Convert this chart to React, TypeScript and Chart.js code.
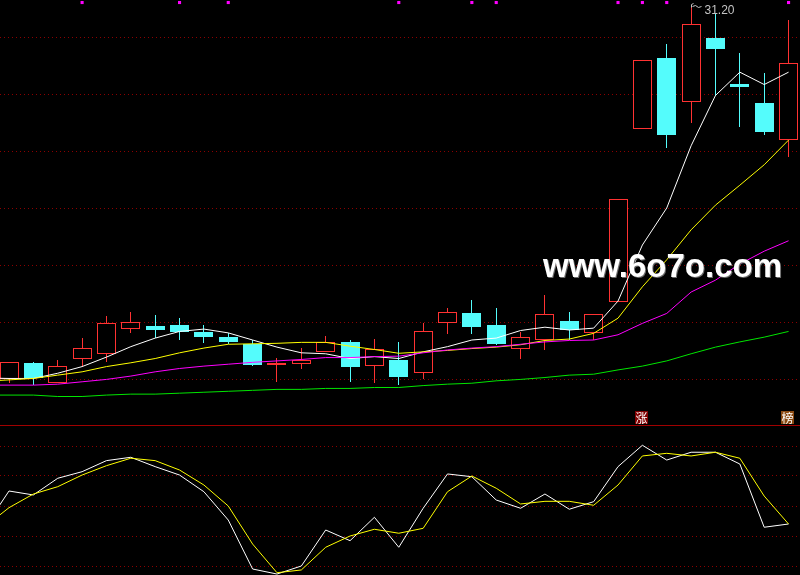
import React, { useEffect, useRef } from "react";
import { Chart, registerables } from "chart.js";

Chart.register(...registerables);

// ---------------- data (one entry per trading day in the window) ----------------
const OPEN = [23.37, 23.71, 23.29, 23.78, 23.89, 24.43, 24.49, 24.51, 24.36, 24.25, 24.10, 23.67, 23.69, 23.93, 24.15, 23.65, 23.77, 23.49, 24.54, 24.76, 24.51, 24.01, 24.18, 24.59, 24.33, 24.98, 28.63, 30.13, 29.20, 30.55, 29.58, 29.18, 28.40];
const HIGH = [23.73, 23.73, 23.77, 24.23, 24.70, 24.78, 24.72, 24.65, 24.51, 24.33, 24.19, 23.81, 24.02, 24.27, 24.19, 24.21, 24.15, 24.54, 24.86, 25.03, 24.86, 24.36, 25.14, 24.78, 24.73, 27.15, 30.08, 30.42, 31.20, 31.05, 30.23, 29.81, 30.93];
const LOW = [23.28, 23.24, 23.28, 23.63, 23.73, 24.34, 24.23, 24.19, 24.13, 24.11, 23.65, 23.31, 23.58, 23.93, 23.31, 23.29, 23.24, 23.37, 24.31, 24.32, 24.09, 23.78, 23.98, 24.19, 24.19, 24.98, 28.63, 28.24, 28.77, 29.33, 28.68, 28.51, 28.05];
const CLOSE = [23.73, 23.39, 23.64, 24.02, 24.54, 24.56, 24.40, 24.36, 24.25, 24.15, 23.66, 23.71, 23.77, 24.15, 23.63, 23.99, 23.42, 24.37, 24.77, 24.47, 24.11, 24.25, 24.73, 24.40, 24.73, 27.15, 30.08, 28.51, 30.84, 30.32, 29.52, 28.58, 30.02];

// moving averages / indicator lines: the first value belongs to the day just before the window
const MA5 = [23.39, 23.38, 23.38, 23.49, 23.63, 23.83, 24.05, 24.23, 24.37, 24.42, 24.34, 24.19, 24.04, 23.92, 23.90, 23.80, 23.84, 23.80, 23.94, 24.05, 24.19, 24.23, 24.39, 24.46, 24.40, 24.44, 25.01, 26.19, 26.97, 28.28, 29.34, 29.83, 29.57, 29.83];
const MA10 = [23.32, 23.35, 23.38, 23.45, 23.52, 23.63, 23.71, 23.80, 23.92, 24.02, 24.10, 24.11, 24.12, 24.14, 24.14, 24.06, 23.99, 23.91, 23.94, 23.97, 24.01, 24.04, 24.09, 24.18, 24.21, 24.33, 24.65, 25.31, 25.88, 26.51, 27.03, 27.45, 27.88, 28.40];
const MA20 = [23.24, 23.24, 23.24, 23.26, 23.31, 23.36, 23.43, 23.52, 23.59, 23.64, 23.68, 23.72, 23.75, 23.78, 23.82, 23.82, 23.84, 23.85, 23.92, 23.98, 24.02, 24.05, 24.10, 24.15, 24.18, 24.19, 24.30, 24.54, 24.75, 25.20, 25.45, 25.79, 26.06, 26.28];
const MA60 = [23.03, 23.03, 23.03, 23.00, 23.00, 23.03, 23.05, 23.05, 23.07, 23.09, 23.11, 23.13, 23.15, 23.15, 23.17, 23.17, 23.19, 23.19, 23.23, 23.26, 23.28, 23.33, 23.36, 23.40, 23.45, 23.47, 23.56, 23.64, 23.75, 23.90, 24.04, 24.15, 24.25, 24.37];
const K_LINE = [32, 62.5, 59.2, 73.1, 78.6, 87.8, 90.6, 82.8, 75.8, 61.9, 38.3, -2.5, -6.7, 0, 30, 21.1, 40.6, 15.6, 48.1, 76.7, 74.4, 55, 48.1, 60, 47.3, 53.6, 82.8, 100.6, 88.3, 94.8, 94.8, 85, 32.3, 35];
const D_LINE = [32.6, 48.6, 60, 66.1, 75.8, 83.6, 89.8, 87.8, 80, 67.5, 50, 18.3, -5.6, -3.3, 15.6, 25, 30.6, 27.3, 31.4, 61.9, 75, 64.8, 51.7, 53.9, 53.9, 50.6, 67.5, 91.7, 93.9, 91.7, 94.8, 89.8, 58.3, 35];

// signal days (magenta marks at the top) and text tags
const SIGNAL_DAYS = [3, 7, 9, 16, 19, 20, 25, 26, 27, 32];
const ZHANG_DAYS = [26];
const BANG_DAYS = [32];

// axis ticks (grid levels)
const PRICE_GRID = [23.35, 24.55, 25.75, 26.95, 28.15, 29.35, 30.55];
const KDJ_GRID = [0, 25, 50, 75, 100];
const PRICE_MIN = 22.4;
const PRICE_MAX = 31.35;
const KDJ_MIN = -7.5;
const KDJ_MAX = 117.5;
const WATERMARK = "www.6o7o.com";

// ---------------- styles ----------------
const RED = "#ff3232";
const CYAN = "#54fcfc";
const GRID = "#8c0000";
const X_MIN = -0.37;
const X_MAX = 32.47;

const lineData = (arr: number[]) => arr.map((v, i) => ({ x: i - 1, y: v }));

const xScale = { type: "linear", min: X_MIN, max: X_MAX, offset: false, display: false, grid: { offset: false } };

const yScale = (min: number, max: number, grid: number[]) => ({
  type: "linear",
  min,
  max,
  afterBuildTicks: (axis: any) => {
    axis.ticks = grid.map((v) => ({ value: v }));
  },
  ticks: { display: false },
  grid: { color: GRID, lineWidth: 1, drawTicks: false },
  border: { display: false, dash: [1, 3] },
});

const lineDs = (label: string, arr: number[], color: string, order: number) => ({
  type: "line",
  label,
  data: lineData(arr),
  borderColor: color,
  borderWidth: 1,
  pointRadius: 0,
  tension: 0,
  order,
});

// snap candle elements (computed by the scales) to whole pixels for crisp edges
const pixelSnap = {
  id: "pixelSnap",
  beforeDatasetsDraw(chart: any) {
    chart.getSortedVisibleDatasetMetas().forEach((meta: any) => {
      if (meta.type !== "bar") return;
      meta.data.forEach((el: any) => {
        el.x = Math.floor(el.x) + 0.5;
        el.y = Math.round(el.y);
        el.base = Math.round(el.base);
      });
    });
  },
};

const topOverlay = {
  id: "topOverlay",
  afterDatasetsDraw(chart: any) {
    const { ctx, chartArea, scales } = chart;
    const xs = scales.x;
    const ys = scales.y;
    ctx.save();

    // watermark
    ctx.font = "bold 34px 'Liberation Sans'";
    const w = ctx.measureText(WATERMARK).width;
    ctx.save();
    ctx.translate(543, 277);
    ctx.scale(239 / w, 1);
    ctx.shadowColor = "#6a6a6a";
    ctx.shadowOffsetX = 1;
    ctx.shadowOffsetY = 1;
    ctx.shadowBlur = 0;
    ctx.fillStyle = "#ffffff";
    ctx.textBaseline = "alphabetic";
    ctx.fillText(WATERMARK, 0, 0);
    ctx.restore();

    // highest-high label
    let hi = 0;
    HIGH.forEach((v, i) => {
      if (v > HIGH[hi]) hi = i;
    });
    const hx = Math.floor(xs.getPixelForValue(hi)) + 0.5;
    const hy = Math.round(ys.getPixelForValue(HIGH[hi])) + 0.5;
    ctx.strokeStyle = "#c4c4c4";
    ctx.lineWidth = 1;
    ctx.beginPath();
    ctx.moveTo(hx, hy);
    ctx.lineTo(hx, hy - 3);
    ctx.lineTo(hx + 2, hy - 4);
    ctx.moveTo(hx + 1, hy - 1);
    ctx.lineTo(hx + 4, hy - 2);
    ctx.lineTo(hx + 7, hy);
    ctx.lineTo(hx + 10, hy - 1);
    ctx.stroke();
    ctx.fillStyle = "#c4c4c4";
    ctx.font = "12px 'Liberation Sans'";
    ctx.textAlign = "left";
    ctx.textBaseline = "alphabetic";
    ctx.fillText(HIGH[hi].toFixed(2), hx + 13, hy + 6);

    // tags
    const drawTag = (day: number, text: string, bg: string) => {
      const cx = Math.floor(xs.getPixelForValue(day)) - 1;
      const top = chartArea.bottom - 14;
      ctx.fillStyle = bg;
      ctx.fillRect(cx - 6, top, 13, 13);
      ctx.fillStyle = "#ffffff";
      ctx.font = "12px 'Noto Sans CJK SC'";
      ctx.textAlign = "center";
      ctx.textBaseline = "middle";
      ctx.fillText(text, cx + 0.5, top + 7);
    };
    ZHANG_DAYS.forEach((d) => drawTag(d, "涨", "#800000"));
    BANG_DAYS.forEach((d) => drawTag(d, "榜", "#8a4a12"));
    ctx.restore();
  },
};

const bottomOverlay = {
  id: "bottomOverlay",
  afterDatasetsDraw(chart: any) {
    const { ctx, chartArea } = chart;
    ctx.save();
    ctx.fillStyle = "#a00000";
    ctx.fillRect(chartArea.left, chartArea.top, chartArea.right - chartArea.left, 1);
    ctx.restore();
  },
};

export default function App() {
  const topRef = useRef<HTMLCanvasElement>(null);
  const botRef = useRef<HTMLCanvasElement>(null);

  useEffect(() => {
    document.body.style.margin = "0";
    document.body.style.background = "#000";
    document.body.style.overflow = "hidden";

    const up = OPEN.map((o, i) => CLOSE[i] >= o);

    const top = new Chart(topRef.current as HTMLCanvasElement, {
      type: "bar",
      data: {
        datasets: [
          {
            type: "line",
            label: "signal",
            data: SIGNAL_DAYS.map((d) => ({ x: d, y: PRICE_MAX - 0.053 })),
            showLine: false,
            pointStyle: "rect",
            pointRadius: 2.2,
            pointBorderWidth: 0,
            pointBackgroundColor: "#ff00ff",
            pointBorderColor: "#ff00ff",
            order: 0,
          },
          lineDs("MA60", MA60, "#00e600", 1),
          lineDs("MA20", MA20, "#ff00ff", 2),
          lineDs("MA10", MA10, "#ffff00", 3),
          lineDs("MA5", MA5, "#ffffff", 4),
          {
            type: "bar",
            label: "body",
            data: OPEN.map((o, i) => ({ x: i, y: [o, CLOSE[i]] })),
            backgroundColor: up.map((u) => (u ? "#000000" : CYAN)),
            borderColor: up.map((u) => (u ? RED : CYAN)),
            borderWidth: 1,
            borderSkipped: false,
            inflateAmount: 0,
            barThickness: 19,
            grouped: false,
            order: 5,
          },
          {
            type: "bar",
            label: "wick",
            data: LOW.map((l, i) => ({ x: i, y: [l, HIGH[i]] })),
            backgroundColor: up.map((u) => (u ? RED : CYAN)),
            borderWidth: 0,
            inflateAmount: 0,
            barThickness: 1,
            grouped: false,
            order: 6,
          },
        ] as any,
      },
      options: {
        responsive: false,
        animation: false,
        events: [],
        layout: { padding: 0, autoPadding: false },
        plugins: { legend: { display: false }, tooltip: { enabled: false } },
        scales: {
          x: xScale as any,
          y: yScale(PRICE_MIN, PRICE_MAX, PRICE_GRID) as any,
        },
      } as any,
      plugins: [pixelSnap, topOverlay],
    });

    const bot = new Chart(botRef.current as HTMLCanvasElement, {
      type: "line",
      data: {
        datasets: [lineDs("D", D_LINE, "#ffff00", 0), lineDs("K", K_LINE, "#ffffff", 1)] as any,
      },
      options: {
        responsive: false,
        animation: false,
        events: [],
        layout: { padding: 0, autoPadding: false },
        plugins: { legend: { display: false }, tooltip: { enabled: false } },
        scales: {
          x: xScale as any,
          y: yScale(KDJ_MIN, KDJ_MAX, KDJ_GRID) as any,
        },
      } as any,
      plugins: [bottomOverlay],
    });

    return () => {
      top.destroy();
      bot.destroy();
    };
  }, []);

  return (
    <div
      style={{
        position: "absolute",
        left: 0,
        top: 0,
        width: 800,
        height: 575,
        background: "#000",
        overflow: "hidden",
      }}
    >
      <canvas ref={topRef} width={800} height={425} style={{ display: "block" }} />
      <canvas ref={botRef} width={800} height={150} style={{ display: "block" }} />
    </div>
  );
}
